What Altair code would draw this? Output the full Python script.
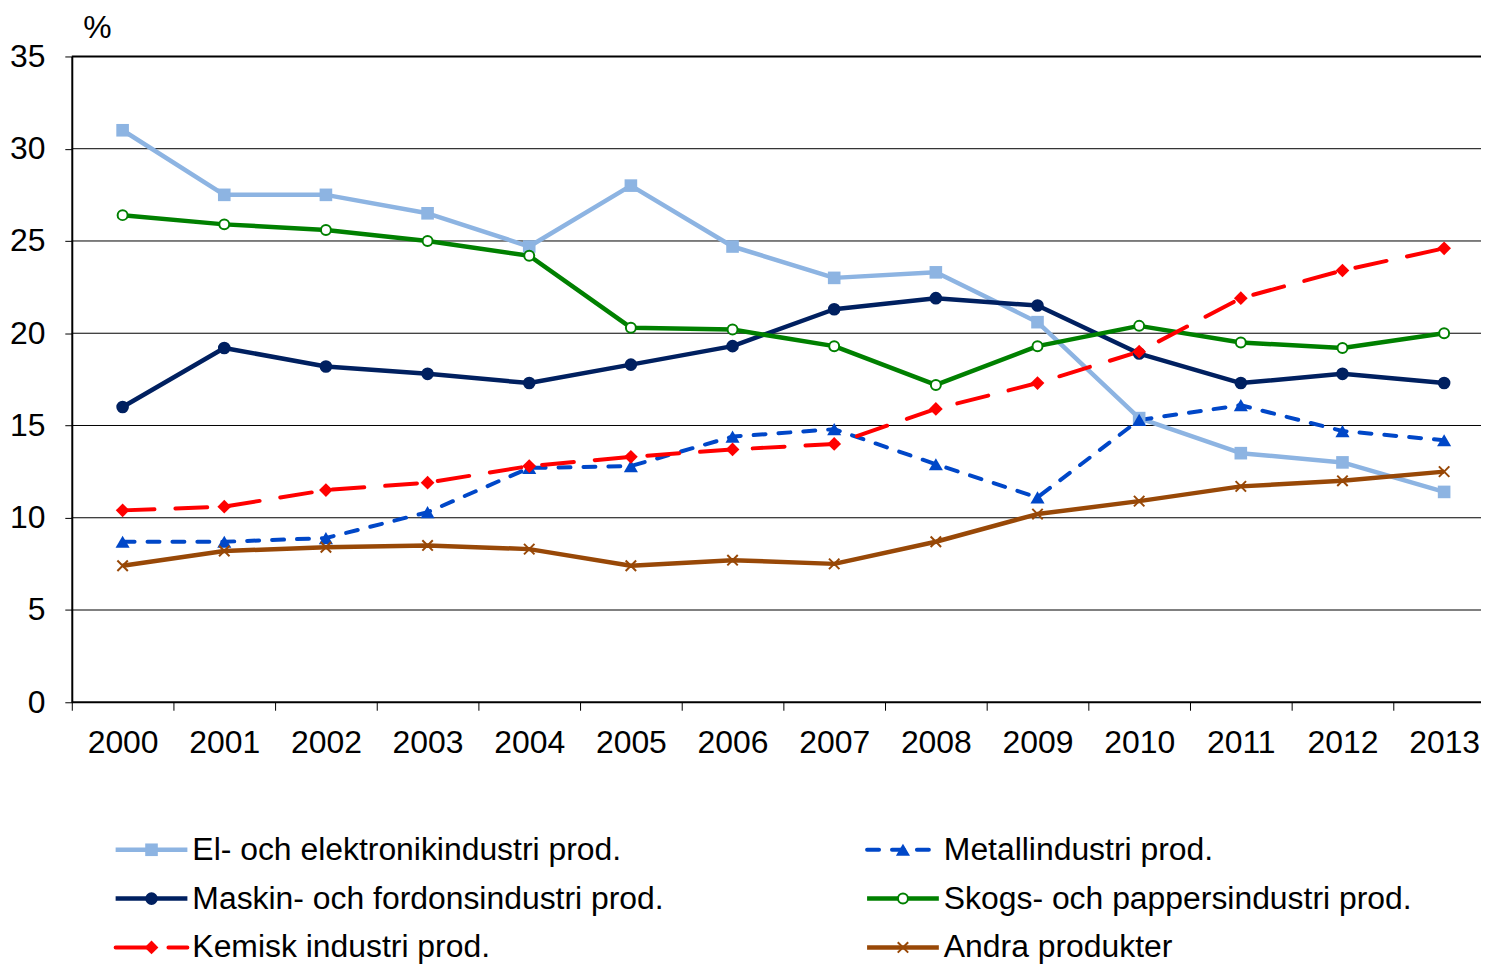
import altair as alt
import pandas as pd

# ---------------- data ----------------
years = [str(y) for y in range(2000, 2014)]
series_names = [
    "El- och elektronikindustri prod.",
    "Metallindustri prod.",
    "Maskin- och fordonsindustri prod.",
    "Skogs- och pappersindustri prod.",
    "Kemisk industri prod.",
    "Andra produkter",
]
el = [31.0, 27.5, 27.5, 26.5, 24.7, 28.0, 24.7, 23.0, 23.3, 20.6, 15.4, 13.5, 13.0, 11.4]
metall = [8.7, 8.7, 8.9, 10.3, 12.7, 12.8, 14.4, 14.8, 12.9, 11.1, 15.3, 16.1, 14.7, 14.2]
maskin = [16.0, 19.2, 18.2, 17.8, 17.3, 18.3, 19.3, 21.3, 21.9, 21.5, 18.9, 17.3, 17.8, 17.3]
skogs = [26.4, 25.9, 25.6, 25.0, 24.2, 20.3, 20.2, 19.3, 17.2, 19.3, 20.4, 19.5, 19.2, 20.0]
kemisk = [10.4, 10.6, 11.5, 11.9, 12.8, 13.3, 13.7, 14.0, 15.9, 17.3, 19.0, 21.9, 23.4, 24.6]
andra = [7.4, 8.2, 8.4, 8.5, 8.3, 7.4, 7.7, 7.5, 8.7, 10.2, 10.9, 11.7, 12.0, 12.5]
y_ticks = [0, 5, 10, 15, 20, 25, 30, 35]
y_title = "%"

# ---------------- styles ----------------
FONT = "Liberation Sans"
FS = 32
BAND_RANGE = 1428
W, H = BAND_RANGE, 648
STEP = BAND_RANGE / len(years)
colors = ["#8DB4E2", "#0047C8", "#002060", "#008000", "#FF0000", "#984807"]
dashes = [None, [12, 13], None, None, [32, 21], None]
X_PATH = "M-1,-1L1,1M-1,1L1,-1"
shapes = ["square", "triangle-up", "circle", "circle", "diamond", X_PATH]
sizes = [160, 200, 160, 100, 190, 110]

all_vals = [el, metall, maskin, skogs, kemisk, andra]
rows = []
for name, vals in zip(series_names, all_vals):
    for yr, v in zip(years, vals):
        rows.append({"series": name, "year": yr, "value": v})
df = pd.DataFrame(rows)
grid_df = pd.DataFrame({"v": y_ticks})

y_scale = alt.Scale(domain=[0, 35], nice=False, zero=True)
x_enc = alt.X(
    "year:O",
    sort=years,
    scale=alt.Scale(type="band", paddingInner=0, paddingOuter=0, range=[0, BAND_RANGE]),
    axis=alt.Axis(
        title=None, labelAngle=0, domain=False, grid=False,
        tickOffset=-STEP / 2, labelOffset=STEP / 2,
        tickSize=8, tickColor="black", tickWidth=1, labelPadding=17,
        labelFont=FONT, labelFontSize=FS, labelColor="black",
    ),
)
y_enc = alt.Y(
    "value:Q",
    scale=y_scale,
    axis=alt.Axis(
        values=y_ticks, title=y_title, titleAngle=0, titleX=11, titleY=-19,
        titleAlign="left", titleBaseline="alphabetic", titleFont=FONT,
        titleFontSize=FS, titleFontWeight="normal", titleColor="black",
        labelFont=FONT, labelFontSize=FS, labelColor="black", labelPadding=20,
        tickSize=7, tickColor="black", tickWidth=1,
        domainColor="black", domainWidth=2, grid=False,
    ),
)


def point_kw(i):
    c = colors[i]
    if i == 3:
        return dict(shape="circle", filled=True, fill="white",
                    stroke=c, strokeWidth=2, size=sizes[i], opacity=1)
    if i == 5:
        return dict(shape=X_PATH, filled=False, stroke=c,
                    strokeWidth=2, size=sizes[i], opacity=1)
    return dict(shape=shapes[i], filled=True, color=c,
                strokeWidth=0, size=sizes[i], opacity=1)


def line_kw(i):
    if dashes[i] is not None:
        return dict(color=colors[i], strokeWidth=4, strokeJoin="round",
                    strokeDash=dashes[i], strokeCap="round")
    return dict(color=colors[i], strokeWidth=4.5, strokeJoin="round")


grid = alt.Chart(grid_df).mark_rule(color="black").encode(
    y=alt.Y("v:Q", scale=y_scale),
    strokeWidth=alt.condition("datum.v === 0 || datum.v === 35", alt.value(2), alt.value(1)),
)

main_layers = [grid]
for i, name in enumerate(series_names):
    base = alt.Chart(df).transform_filter(alt.datum.series == name)
    main_layers.append(base.mark_line(**line_kw(i)).encode(x=x_enc, y=y_enc))
for i, name in enumerate(series_names):
    base = alt.Chart(df).transform_filter(alt.datum.series == name)
    main_layers.append(base.mark_point(**point_kw(i)).encode(x=x_enc, y=y_enc))

main = alt.layer(*main_layers).properties(width=W, height=H)

# ---------------- legend ----------------
LEG_COL_X = [44, 798]
LEG_LINE = 72
LEG_ROW_H = 49
leg_rows = []
for i, name in enumerate(series_names):
    cx = LEG_COL_X[i % 2]
    leg_rows.append({"series": name, "row": i // 2, "x1": cx, "x2": cx + LEG_LINE,
                     "xm": cx + LEG_LINE / 2, "xt": cx + LEG_LINE + 5})
leg_df = pd.DataFrame(leg_rows)

lx = alt.Scale(domain=[0, W], nice=False, zero=False)
ly = alt.Scale(domain=[0, 2], range=[0, 2 * LEG_ROW_H], nice=False, zero=False)

leg_layers = []
for i, name in enumerate(series_names):
    b = alt.Chart(leg_df).transform_filter(alt.datum.series == name)
    kw = line_kw(i)
    kw.pop("strokeJoin")
    leg_layers.append(b.mark_rule(**kw).encode(
        x=alt.X("x1:Q", scale=lx, axis=None), x2="x2:Q",
        y=alt.Y("row:Q", scale=ly, axis=None)))
    leg_layers.append(b.mark_point(**point_kw(i)).encode(
        x=alt.X("xm:Q", scale=lx, axis=None),
        y=alt.Y("row:Q", scale=ly, axis=None)))
    leg_layers.append(b.mark_text(align="left", baseline="middle", font=FONT,
                                  fontSize=FS, color="black").encode(
        x=alt.X("xt:Q", scale=lx, axis=None),
        y=alt.Y("row:Q", scale=ly, axis=None),
        text="series:N"))

legend = alt.layer(*leg_layers).properties(width=W, height=2 * LEG_ROW_H)

chart = (
    alt.vconcat(main, legend, spacing=76)
    .resolve_scale(x="independent", y="independent")
    .properties(padding={"left": 1, "top": 2, "right": -15, "bottom": 0}, background="white")
    .configure(font=FONT)
    .configure_view(strokeWidth=0, stroke="transparent")
)

chart.save("out.html", embed_options={"renderer": "svg", "actions": False})
